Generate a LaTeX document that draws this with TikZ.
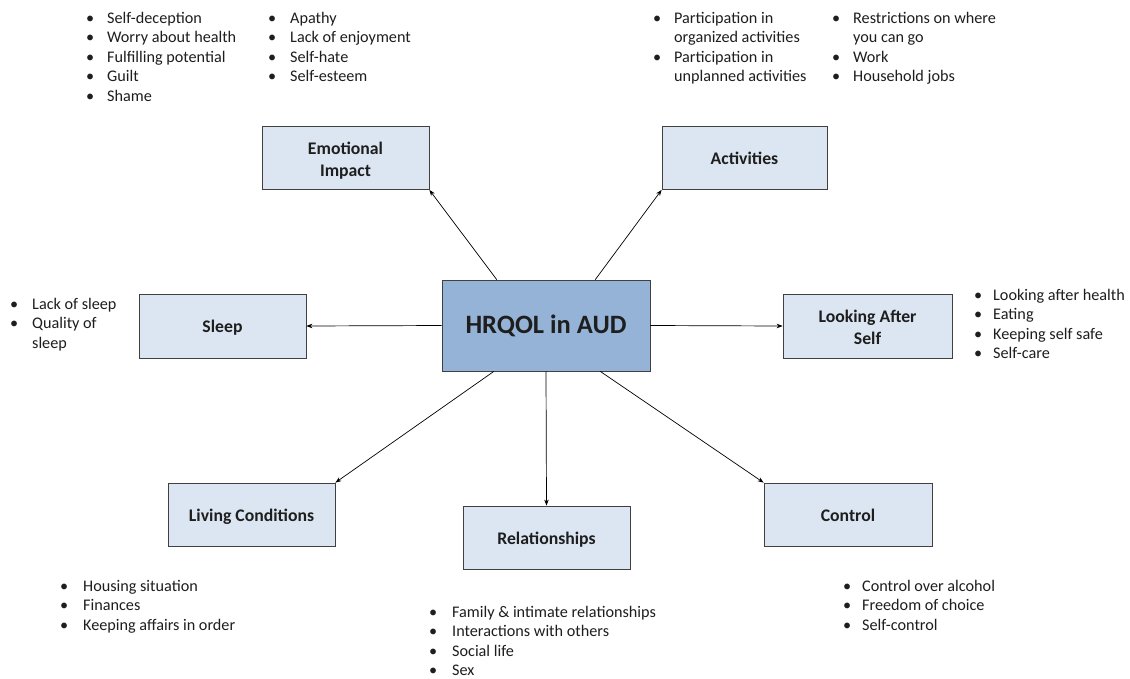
\documentclass[tikz,border=0pt]{standalone}
\usepackage{fontspec}
\setmainfont{Carlito}
\usetikzlibrary{arrows.meta,calc}
\definecolor{boxfill}{HTML}{DCE6F2}
\definecolor{hubfill}{HTML}{95B3D7}
\definecolor{boxline}{HTML}{404040}
\definecolor{txt}{HTML}{1E1E1E}
\newcommand{\bitem}[2]{\makebox[0pt]{\textbullet}\hspace*{#1pt}#2}
\newcommand{\cont}[2]{\hspace*{#1pt}#2}
\newcommand{\twoline}[2]{\raisebox{-7.4pt}[0pt][0pt]{\begin{tabular}{@{}c@{}}#1\\#2\end{tabular}}}
\begin{document}
\begin{tikzpicture}[x=1pt,y=-1pt,
  box/.style={draw=boxline,fill=boxfill,line width=0.8pt,inner sep=0pt,
    minimum width=167pt,minimum height=63pt,align=center,text=txt,
    font=\fontsize{17.7}{22}\selectfont\bfseries},
  onebox/.style={box,text height=13pt,text depth=0pt},
  hubbox/.style={box,fill=hubfill,minimum width=208pt,minimum height=91pt,
    font=\fontsize{26.5}{30}\selectfont\bfseries},
  lst/.style={anchor=base west,inner sep=0pt,text=txt,
    font=\fontsize{16.2}{19.4}\selectfont},
  conn/.style={draw=black,line width=0.7pt,-{Stealth[length=6pt,width=4.5pt]}}]
\useasboundingbox (0,0) rectangle (1130,678);
\fill[white] (0,0) rectangle (1130,678);

% boxes
\node[hubbox] (hub) at (546,325.5) {HRQOL in AUD};
\node[box] (emo) at (345.5,158) {\twoline{Emotional}{Impact}};
\node[onebox,minimum width=165pt] (act) at (744.5,158) {Activities};
\node[onebox,minimum height=64pt] (sleep) at (222.5,326) {Sleep};
\node[box,minimum width=169pt,minimum height=64pt] (las) at (867.5,326) {\twoline{Looking After}{Self}};
\node[onebox] (liv) at (251.5,514.5) {Living Conditions};
\node[onebox] (rel) at (546.5,537.5) {Relationships};
\node[onebox,minimum width=168pt] (ctl) at (848,514.5) {Control};

% connector start points on the hub
\coordinate (hn1) at ($(hub.north west)!0.264!(hub.north east)$);
\coordinate (hn2) at ($(hub.north west)!0.736!(hub.north east)$);
\coordinate (hs1) at ($(hub.south west)!0.25!(hub.south east)$);
\coordinate (hs3) at ($(hub.south west)!0.76!(hub.south east)$);

\draw[conn] (hn1) -- (emo.south east);
\draw[conn] (hn2) -- (act.south west);
\draw[conn] (hub.west) -- (sleep.east);
\draw[conn] (hub.east) -- (las.west);
\draw[conn] (hs1) -- (liv.north east);
\draw[conn] (hub.south) -- (rel.north);
\draw[conn] (hs3) -- (ctl.north west);

% bullet lists
\node[lst] (emoA) at (90,23.5) {\begin{tabular}[t]{@{}l@{}}
\bitem{17}{Self-deception}\\
\bitem{17}{Worry about health}\\
\bitem{17}{Fulfilling potential}\\
\bitem{17}{Guilt}\\
\bitem{17}{Shame}\end{tabular}};
\node[lst] (emoB) at (272,23.5) {\begin{tabular}[t]{@{}l@{}}
\bitem{18}{Apathy}\\
\bitem{18}{Lack of enjoyment}\\
\bitem{18}{Self-hate}\\
\bitem{18}{Self-esteem}\end{tabular}};
\node[lst] (actA) at (657,23.5) {\begin{tabular}[t]{@{}l@{}}
\bitem{17}{Participation in}\\
\cont{17}{organized activities}\\
\bitem{17}{Participation in}\\
\cont{17}{unplanned activities}\end{tabular}};
\node[lst] (actB) at (836,23.5) {\begin{tabular}[t]{@{}l@{}}
\bitem{17}{Restrictions on where}\\
\cont{17}{you can go}\\
\bitem{17}{Work}\\
\bitem{17}{Household jobs}\end{tabular}};
\node[lst] (sleepL) at (14,309.5) {\begin{tabular}[t]{@{}l@{}}
\bitem{18}{Lack of sleep}\\
\bitem{18}{Quality of}\\
\cont{18}{sleep}\end{tabular}};
\node[lst] (lasL) at (978,300.5) {\begin{tabular}[t]{@{}l@{}}
\bitem{15}{Looking after health}\\
\bitem{15}{Eating}\\
\bitem{15}{Keeping self safe}\\
\bitem{15}{Self-care}\end{tabular}};
\node[lst] (livL) at (64,591.5) {\begin{tabular}[t]{@{}l@{}}
\bitem{19}{Housing situation}\\
\bitem{19}{Finances}\\
\bitem{19}{Keeping affairs in order}\end{tabular}};
\node[lst] (relL) at (433,617.5) {\begin{tabular}[t]{@{}l@{}}
\bitem{19}{Family \& intimate relationships}\\
\bitem{19}{Interactions with others}\\
\bitem{19}{Social life}\\
\bitem{19}{Sex}\end{tabular}};
\node[lst] (ctlL) at (847,591.5) {\begin{tabular}[t]{@{}l@{}}
\bitem{15}{Control over alcohol}\\
\bitem{15}{Freedom of choice}\\
\bitem{15}{Self-control}\end{tabular}};
\end{tikzpicture}
\end{document}
